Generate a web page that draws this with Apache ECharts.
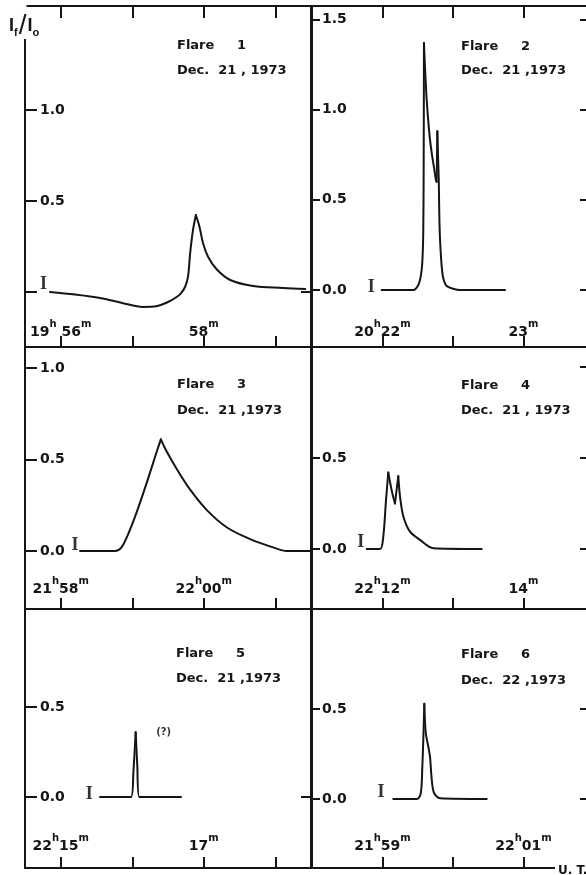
<!DOCTYPE html>
<html>
<head>
<meta charset="UTF-8">
<title>Flares Dec. 1973</title>
<script src="https://cdn.jsdelivr.net/npm/echarts@6/dist/echarts.min.js"></script>
<style>
html, body {margin:0; padding:0; overflow:hidden; background:#fff;}
#flares {width:600px; height:875px;}
</style>
</head>
<body>
<div id="flares"></div>
<script>
// time in minutes past the hour, value I_f/I_o
var flare1T = [55.85, 56.20, 56.55, 56.86, 57.15, 57.35, 57.50, 57.61, 57.68, 57.74, 57.78, 57.81, 57.85, 57.89, 57.94, 57.99, 58.06, 58.18, 58.37, 58.69, 59.11, 59.42];
var flare1V = [0.00, -0.014, -0.033, -0.060, -0.082, -0.077, -0.055, -0.030, -0.007, 0.029, 0.084, 0.214, 0.341, 0.423, 0.359, 0.268, 0.194, 0.125, 0.066, 0.033, 0.022, 0.016];

var flare2T = [21.994, 22.218, 22.254, 22.271, 22.282, 22.289, 22.292, 22.294, 22.301, 22.313, 22.332, 22.349, 22.367, 22.379, 22.384, 22.389, 22.394, 22.399, 22.403, 22.408, 22.420, 22.431, 22.455, 22.502, 22.550, 22.869];
var flare2V = [0, 0, 0.028, 0.074, 0.15, 0.32, 0.69, 1.37, 1.24, 1.06, 0.87, 0.76, 0.67, 0.61, 0.60, 0.88, 0.74, 0.61, 0.41, 0.28, 0.13, 0.065, 0.022, 0.007, 0, 0];

var flare3T = [58.27, 58.76, 58.85, 58.94, 59.06, 59.20, 59.34, 59.40, 59.48, 59.62, 59.81, 60.04, 60.32, 60.65, 60.97, 61.16, 61.49];
var flare3V = [0, 0, 0.02, 0.09, 0.21, 0.37, 0.54, 0.61, 0.545, 0.45, 0.335, 0.225, 0.13, 0.065, 0.02, 0.0, 0.0];

var flare4T = [11.776, 11.965, 12.011, 12.050, 12.082, 12.131, 12.177, 12.224, 12.248, 12.295, 12.390, 12.532, 12.721, 13.407];
var flare4V = [0, 0, 0.068, 0.27, 0.42, 0.32, 0.25, 0.40, 0.29, 0.18, 0.095, 0.05, 0.004, 0];

var flare5T = [15.549, 15.983, 16.015, 16.048, 16.071, 16.099, 16.682];
var flare5V = [0, 0, 0.13, 0.36, 0.17, 0, 0];

var flare6T = [59.153, 59.485, 59.542, 59.565, 59.584, 59.593, 59.613, 59.650, 59.674, 59.698, 59.730, 59.816, 60.478];
var flare6V = [0, 0, 0.03, 0.18, 0.40, 0.53, 0.37, 0.29, 0.235, 0.11, 0.035, 0.004, 0];

// "I" error bar markers
var errT = [55.76, 21.92, 58.2, 11.69, 15.40, 58.98];
var errV = [0.04, 0.014, 0.033, 0.038, 0.017, 0.036];
// the "(?)" note of flare 5
var noteT = 16.44, noteV = 0.36;

var flareNames = ['Flare     1', 'Flare     2', 'Flare     3', 'Flare     4', 'Flare     5', 'Flare     6'];
var flareDates = ['Dec.  21 , 1973', 'Dec.  21 ,1973', 'Dec.  21 ,1973', 'Dec.  21 , 1973', 'Dec.  21 ,1973', 'Dec.  22 ,1973'];

var xTicks = [[56, 57, 58, 59], [22, 22.5, 23], [58, 59, 60, 61], [12, 13, 14], [15, 16, 17, 18], [59, 60, 61]];
var xTickLabels = [
    [[56, '19', ' 56'], [58, '', '58']],
    [[22, '20', '22'], [23, '', '23']],
    [[58, '21', '58'], [60, '22', '00']],
    [[12, '22', '12'], [14, '', '14']],
    [[15, '22', '15'], [17, '', '17']],
    [[59, '21', '59'], [61, '22', '01']]
];
var yTicks = [[0, 0.5, 1.0], [0, 0.5, 1.0, 1.5], [0, 0.5, 1.0], [0, 0.5], [0, 0.5], [0, 0.5]];
var yTickLabels = [[0.5, 1.0], [0, 0.5, 1.0, 1.5], [0, 0.5, 1.0], [0, 0.5], [0, 0.5], [0, 0.5]];
var yRightTicks = [[0], [0, 0.5, 1.0, 1.5], [0], [0, 0.5, 1.0], [0], [0, 0.5]];

var flareT = [flare1T, flare2T, flare3T, flare4T, flare5T, flare6T];
var flareV = [flare1V, flare2V, flare3V, flare4V, flare5V, flare6V];

// layout
var grids = [
    {left: 25, top: 6, width: 286, height: 341},
    {left: 312, top: 6, width: 282, height: 341},
    {left: 25, top: 347, width: 286, height: 262},
    {left: 312, top: 347, width: 282, height: 262},
    {left: 25, top: 609, width: 286, height: 259},
    {left: 312, top: 609, width: 282, height: 259}
];
var xRange = [[55.5, 59.5], [21.5, 23.5], [57.5, 61.5], [11, 15], [14.5, 18.5], [58, 62]];
var yRange = [[-0.302, 1.571], [-0.316, 1.575], [-0.317, 1.115], [-0.330, 1.110], [-0.394, 1.044], [-0.383, 1.056]];
var textPos = [[177, 46, 71], [461, 47, 71], [177, 385, 411], [461, 386, 411], [176, 654, 679], [461, 655, 681]];
var xLabelMargin = [8, 8, 13, 13, 15, 15];
var smoothing = [0.35, 0.3, 0.35, 0.3, 0.2, 0.3];

var ink = '#151515';
var labelFont = 'DejaVu Sans';

var myChart = echarts.init(document.getElementById('flares'));

// cut a trace at its peaks (and at the dips between peaks) so the cusps stay sharp
function pieces(t, v) {
    var out = [], cur = [[t[0], v[0]]];
    for (var i = 1; i < t.length; i++) {
        cur.push([t[i], v[i]]);
        var isPeak = i < t.length - 1 && v[i] > v[i - 1] && v[i] >= v[i + 1];
        var isDip = i < t.length - 1 && v[i] < v[i - 1] && v[i] <= v[i + 1] && v[i] > 0.1;
        if (isPeak || isDip) {
            out.push(cur);
            cur = [[t[i], v[i]]];
        }
    }
    out.push(cur);
    return out;
}

function xFormatter(list) {
    return function (val) {
        for (var i = 0; i < list.length; i++) {
            if (Math.abs(list[i][0] - val) < 1e-6) {
                var h = list[i][1] ? '{n|' + list[i][1] + '}{s|h}' : '';
                return h + '{n|' + list[i][2] + '}{s|m}';
            }
        }
        return '';
    };
}

var xAxes = [], yAxes = [], series = [], graphics = [];
for (var i = 0; i < 6; i++) {
    var rightCol = i % 2 === 1;
    xAxes.push({
        type: 'value', gridIndex: i, position: 'bottom',
        min: xRange[i][0], max: xRange[i][1],
        axisLine: {show: true, onZero: false, lineStyle: {color: ink, width: 2}},
        axisTick: {show: true, inside: true, length: 11, customValues: xTicks[i], lineStyle: {color: ink, width: 2}},
        axisLabel: {
            show: true, inside: true, margin: xLabelMargin[i], customValues: xTickLabels[i].map(function (d) { return d[0]; }),
            formatter: xFormatter(xTickLabels[i]),
            rich: {
                n: {fontFamily: labelFont, fontWeight: 'bold', fontSize: 14, color: ink, lineHeight: 20, verticalAlign: 'bottom'},
                s: {fontFamily: labelFont, fontWeight: 'bold', fontSize: 10, color: ink, lineHeight: 20, verticalAlign: 'top'}
            }
        },
        splitLine: {show: false}
    });
    xAxes.push({
        type: 'value', gridIndex: i, position: 'top',
        min: xRange[i][0], max: xRange[i][1],
        axisLine: {show: true, onZero: false, lineStyle: {color: ink, width: 2}},
        axisTick: {show: i < 2, inside: true, length: 12, customValues: xTicks[i], lineStyle: {color: ink, width: 2}},
        axisLabel: {show: false},
        splitLine: {show: false}
    });
    yAxes.push({
        type: 'value', gridIndex: i, position: 'left',
        min: yRange[i][0], max: yRange[i][1],
        axisLine: {show: true, onZero: false, lineStyle: {color: ink, width: 2}},
        axisTick: {show: true, inside: true, length: rightCol ? 8 : 12, customValues: yTicks[i], lineStyle: {color: ink, width: 2}},
        axisLabel: {
            show: true, inside: true, margin: rightCol ? 10 : 15, customValues: yTickLabels[i],
            fontFamily: labelFont, fontWeight: 'bold', fontSize: 14, color: ink,
            formatter: function (v) { return v.toFixed(1); }
        },
        splitLine: {show: false}
    });
    yAxes.push({
        type: 'value', gridIndex: i, position: 'right',
        min: yRange[i][0], max: yRange[i][1],
        axisLine: {show: true, onZero: false, lineStyle: {color: ink, width: 2}},
        axisTick: {show: true, inside: true, length: rightCol ? 14 : 10, customValues: yRightTicks[i], lineStyle: {color: ink, width: 2}},
        axisLabel: {show: false},
        splitLine: {show: false}
    });

    pieces(flareT[i], flareV[i]).forEach(function (seg) {
        series.push({
            type: 'line', xAxisIndex: 2 * i, yAxisIndex: 2 * i,
            data: seg,
            showSymbol: false, smooth: smoothing[i],
            lineStyle: {color: ink, width: 2, join: 'round', cap: 'round'},
            silent: true
        });
    });
    var marks = [{value: [errT[i], errV[i]], label: {formatter: 'I'}}];
    if (i === 4) {
        marks.push({value: [noteT, noteV], label: {formatter: '(?)', fontFamily: labelFont, fontSize: 10, fontWeight: 'bold'}});
    }
    series.push({
        type: 'scatter', xAxisIndex: 2 * i, yAxisIndex: 2 * i,
        data: marks, symbolSize: 0, itemStyle: {color: ink},
        label: {show: true, position: 'inside', color: '#000', fontFamily: 'Liberation Serif', fontWeight: 'bold', fontSize: 18},
        silent: true
    });

    graphics.push({
        type: 'text', x: textPos[i][0], y: textPos[i][1], z: 50,
        style: {text: flareNames[i], fill: ink, fontFamily: labelFont, fontWeight: 'bold', fontSize: 13, verticalAlign: 'middle'}
    });
    graphics.push({
        type: 'text', x: textPos[i][0], y: textPos[i][2], z: 50,
        style: {text: flareDates[i], fill: ink, fontFamily: labelFont, fontWeight: 'bold', fontSize: 13, verticalAlign: 'middle'}
    });
}

// axis title and U.T. tag
graphics.push({type: 'rect', z: 60, shape: {x: 0, y: 0, width: 26.5, height: 39}, style: {fill: '#fff'}});
graphics.push({
    type: 'text', x: 9, y: 14, z: 61,
    style: {
        text: '{i|I}{sub|f}{sl|/}{i|I}{sub|o}',
        rich: {
            i: {fontFamily: 'Liberation Sans', fontWeight: 'bold', fontSize: 18, fill: ink, lineHeight: 24, verticalAlign: 'top', padding: [3, 0, 0, 0]},
            sub: {fontFamily: 'Liberation Sans', fontWeight: 'bold', fontSize: 11, fill: ink, lineHeight: 24, verticalAlign: 'bottom'},
            sl: {fontFamily: 'Liberation Sans', fontSize: 28, fill: ink, lineHeight: 24, verticalAlign: 'middle', padding: [0, 1, 0, 1]}
        }
    }
});
graphics.push({type: 'rect', z: 60, shape: {x: 555, y: 863, width: 45, height: 12}, style: {fill: '#fff'}});
graphics.push({
    type: 'text', x: 558, y: 871, z: 61,
    style: {text: 'U. T.', fill: ink, fontFamily: labelFont, fontWeight: 'bold', fontSize: 12, verticalAlign: 'middle'}
});

var option = {
    backgroundColor: '#fff',
    animation: false,
    grid: grids,
    xAxis: xAxes,
    yAxis: yAxes,
    series: series,
    graphic: graphics
};
myChart.setOption(option);
</script>
</body>
</html>
